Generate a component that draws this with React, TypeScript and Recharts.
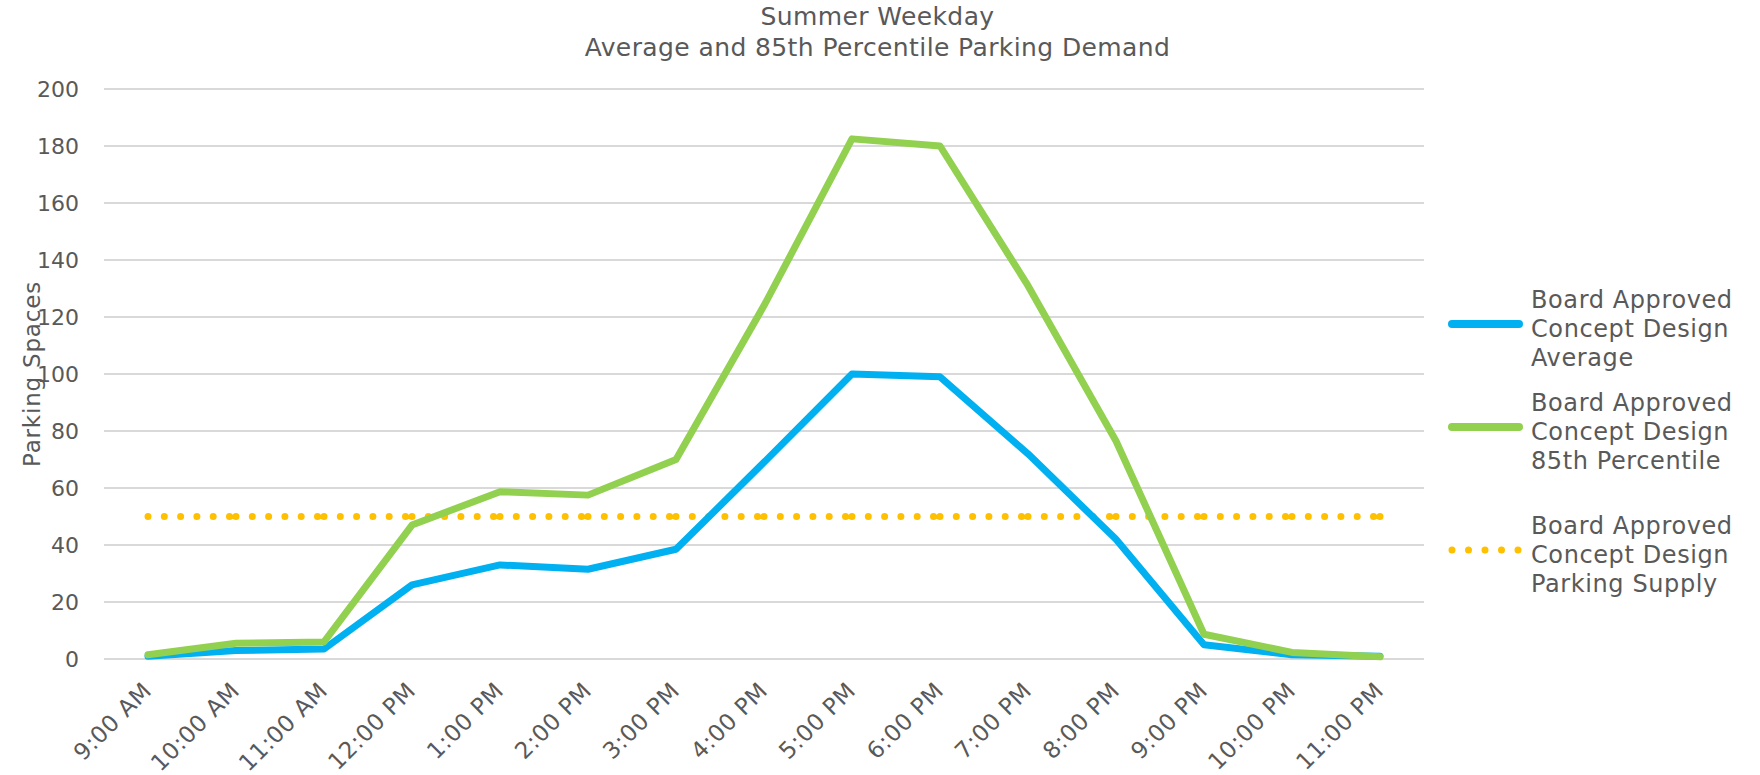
import React from 'react';
import { LineChart, Line, XAxis, YAxis, CartesianGrid, Legend } from 'recharts';

const hours = [
  '9:00 AM', '10:00 AM', '11:00 AM', '12:00 PM', '1:00 PM', '2:00 PM', '3:00 PM',
  '4:00 PM', '5:00 PM', '6:00 PM', '7:00 PM', '8:00 PM', '9:00 PM', '10:00 PM', '11:00 PM',
];
const averageDemand = [1, 3, 3.5, 26, 33, 31.5, 38.5, 69, 100, 99, 72, 42, 5, 1.5, 1];
const percentileDemand = [1.5, 5.5, 6, 47, 58.7, 57.5, 70, 124, 182.5, 180, 131, 76.5, 8.7, 2.3, 0.8];
const parkingSupply = [50, 50, 50, 50, 50, 50, 50, 50, 50, 50, 50, 50, 50, 50, 50];
const yTicks = [0, 20, 40, 60, 80, 100, 120, 140, 160, 180, 200];

const seriesNames = {
  avg: 'Board Approved Concept Design Average',
  p85: 'Board Approved Concept Design 85th Percentile',
  supply: 'Board Approved Concept Design Parking Supply',
};

const data = hours.map((h, i) => ({
  hour: h,
  avg: averageDemand[i],
  p85: percentileDemand[i],
  supply: parkingSupply[i],
}));

const FONT = '"DejaVu Sans", sans-serif';
const TEXT = '#595959';
const BLUE = '#00B0F0';
const GREEN = '#92D050';
const GOLD = '#FFC000';

const PLOT_LEFT = 104;
const PLOT_RIGHT = 1424;
const band = (PLOT_RIGHT - PLOT_LEFT) / hours.length;
// Excel restarts the dot pattern at every point
const dotGap = 16.3;
const supplyDash = `0 ${dotGap} 0 ${dotGap} 0 ${dotGap} 0 ${dotGap} 0 ${dotGap} 0 ${band - dotGap * 5}`;

const HourTick = (props: any) => {
  const { x, y, payload } = props;
  const tx = x + 5;
  const ty = y + 25;
  return (
    <text
      x={tx}
      y={ty}
      transform={`rotate(-45, ${tx}, ${ty})`}
      textAnchor="end"
      fontFamily={FONT}
      fontSize={23}
      letterSpacing={0.6}
      fill={TEXT}
    >
      {payload.value}
    </text>
  );
};

const legendLines = [
  { key: 'avg', color: BLUE, dotted: false, lines: ['Board Approved', 'Concept Design', 'Average'], top: 282 },
  { key: 'p85', color: GREEN, dotted: false, lines: ['Board Approved', 'Concept Design', '85th Percentile'], top: 385 },
  { key: 'supply', color: GOLD, dotted: true, lines: ['Board Approved', 'Concept Design', 'Parking Supply'], top: 508 },
];

const LegendBox = () => (
  <svg width={320} height={775} style={{ position: 'absolute', left: 1440, top: 0 }}>
    {legendLines.map((item) => (
      <g key={item.key}>
        <line
          x1={12}
          x2={79}
          y1={item.top + 42}
          y2={item.top + 42}
          stroke={item.color}
          strokeWidth={item.dotted ? 7 : 8}
          strokeLinecap="round"
          strokeDasharray={item.dotted ? '0 16.5' : undefined}
        />
        {item.lines.map((t, j) => (
          <text
            key={j}
            x={91}
            y={item.top + 26 + j * 29}
            fontFamily={FONT}
            fontSize={24}
            letterSpacing={0.6}
            fill={TEXT}
          >
            {t}
          </text>
        ))}
      </g>
    ))}
  </svg>
);

export default function App() {
  return (
    <div style={{ position: 'absolute', left: 0, top: 0, width: 1760, height: 775, background: '#fff' }}>
      <div
        style={{
          position: 'absolute',
          left: 0,
          top: 1,
          width: 1755,
          textAlign: 'center',
          fontFamily: FONT,
          fontSize: 25,
          letterSpacing: 0.4,
          lineHeight: '31px',
          color: TEXT,
        }}
      >
        <div>Summer Weekday</div>
        <div>Average and 85th Percentile Parking Demand</div>
      </div>
      <LineChart
        width={1760}
        height={775}
        data={data}
        margin={{ top: 89, right: 1760 - PLOT_RIGHT, left: 0, bottom: 16 }}
      >
        <CartesianGrid vertical={false} stroke="#D9D9D9" strokeWidth={2} />
        <XAxis
          dataKey="hour"
          height={100}
          axisLine={false}
          tickLine={false}
          interval={0}
          padding={{ left: band / 2, right: band / 2 }}
          tick={<HourTick />}
        />
        <YAxis
          width={PLOT_LEFT}
          domain={[0, 200]}
          ticks={yTicks}
          axisLine={false}
          tickLine={false}
          tickMargin={19}
          tick={{ fontFamily: FONT, fontSize: 22, fill: TEXT }}
          label={{
            value: 'Parking Spaces',
            angle: -90,
            position: 'insideLeft',
            offset: 32,
            style: { textAnchor: 'middle', fontFamily: FONT, fontSize: 23, letterSpacing: 0.8, fill: TEXT },
          }}
        />
        <Legend content={() => null} />
        <Line
          dataKey="supply"
          name={seriesNames.supply}
          stroke={GOLD}
          strokeWidth={7}
          strokeLinecap="round"
          strokeDasharray={supplyDash}
          dot={false}
          activeDot={false}
          isAnimationActive={false}
        />
        <Line
          dataKey="avg"
          name={seriesNames.avg}
          stroke={BLUE}
          strokeWidth={7}
          strokeLinejoin="round"
          strokeLinecap="round"
          dot={false}
          activeDot={false}
          isAnimationActive={false}
        />
        <Line
          dataKey="p85"
          name={seriesNames.p85}
          stroke={GREEN}
          strokeWidth={7}
          strokeLinejoin="round"
          strokeLinecap="round"
          dot={false}
          activeDot={false}
          isAnimationActive={false}
        />
      </LineChart>
      <LegendBox />
    </div>
  );
}
